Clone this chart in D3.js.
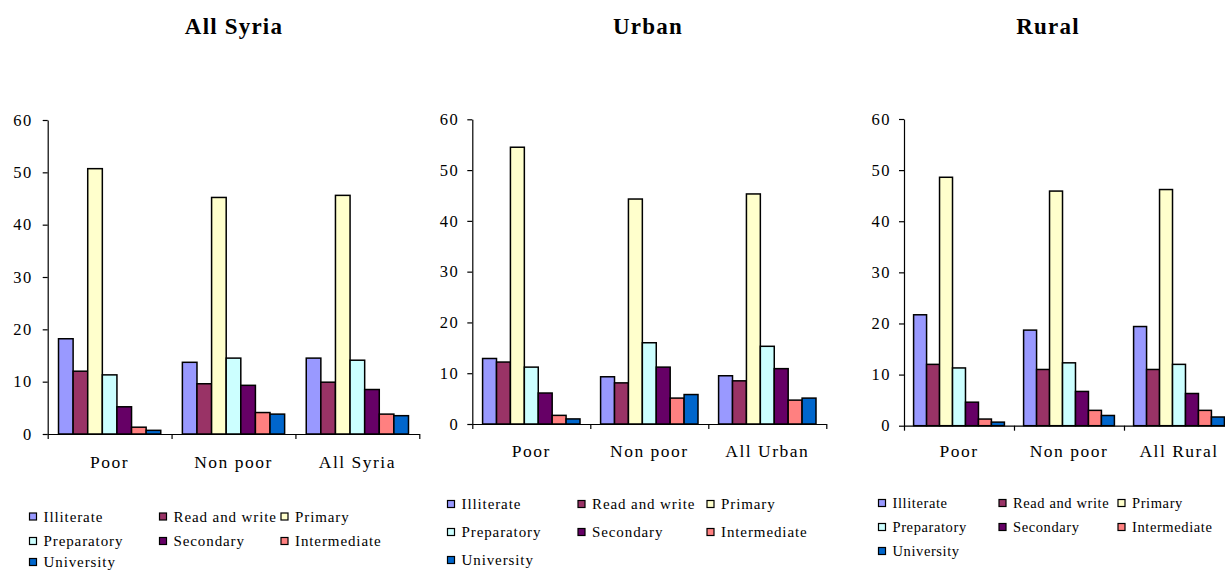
<!DOCTYPE html>
<html>
<head>
<meta charset="utf-8">
<script src="https://cdn.jsdelivr.net/npm/d3@7"></script>
<style>
  html, body { margin: 0; padding: 0; background: #fff; }
  svg { display: block; font-family: "Liberation Serif", "Times New Roman", serif; }
</style>
</head>
<body>
<svg id="chart" width="1225" height="571"></svg>
<script>
// Education level shares (%) of household heads, by poverty status
const series = ["Illiterate", "Read and write", "Primary", "Preparatory", "Secondary", "Intermediate", "University"];
const seriesColors = ["#9999FF", "#993366", "#FFFFCC", "#CCFFFF", "#660066", "#FF8080", "#0066CC"];
const yTicks = [0, 10, 20, 30, 40, 50, 60];

const syriaGroups = ["Poor", "Non poor", "All Syria"];
const syriaPoor    = [18.2, 12.0, 50.7, 11.3, 5.2, 1.3, 0.7];
const syriaNonPoor = [13.7, 9.6, 45.2, 14.5, 9.3, 4.1, 3.8];
const syriaAll     = [14.5, 9.9, 45.6, 14.1, 8.5, 3.8, 3.5];

const urbanGroups = ["Poor", "Non poor", "All Urban"];
const urbanPoor    = [12.9, 12.2, 54.5, 11.2, 6.1, 1.7, 1.0];
const urbanNonPoor = [9.3, 8.1, 44.3, 16.0, 11.2, 5.1, 5.8];
const urbanAll     = [9.5, 8.5, 45.3, 15.3, 10.9, 4.7, 5.1];

const ruralGroups = ["Poor", "Non poor", "All Rural"];
const ruralPoor    = [21.7, 12.0, 48.6, 11.3, 4.6, 1.3, 0.7];
const ruralNonPoor = [18.7, 11.0, 45.9, 12.3, 6.7, 3.0, 2.0];
const ruralAll     = [19.4, 11.0, 46.2, 12.0, 6.3, 3.0, 1.7];

const panels = [
  { title: "All Syria", groups: syriaGroups, values: [syriaPoor, syriaNonPoor, syriaAll],
    titleX: 234, left: 47.7, right: 419.3, top: 120, bottom: 434, labelY: 468, tickPad: 10,
    legend: { cols: [29.5, 159.5, 281], rows: [516.5, 541, 562], size: 15, spacing: 0.9 } },
  { title: "Urban", groups: urbanGroups, values: [urbanPoor, urbanNonPoor, urbanAll],
    titleX: 648, left: 472.3, right: 826.3, top: 119.3, bottom: 424, labelY: 457, tickPad: 8,
    legend: { cols: [447.5, 578, 707], rows: [504, 532, 560], size: 15, spacing: 0.9 } },
  { title: "Rural", groups: ruralGroups, values: [ruralPoor, ruralNonPoor, ruralAll],
    titleX: 1048, left: 904, right: 1234, top: 119, bottom: 425.7, labelY: 457, tickPad: 8,
    legend: { cols: [878.5, 999, 1118], rows: [503, 527, 551], size: 14.5, spacing: 0.6 } }
];

const svg = d3.select("#chart");

panels.forEach(p => {
  const g = svg.append("g");

  // Title
  g.append("text")
    .attr("x", p.titleX).attr("y", 34)
    .attr("text-anchor", "middle")
    .attr("font-size", 23).attr("font-weight", "bold")
    .attr("letter-spacing", 1.2)
    .text(p.title);

  const y = d3.scaleLinear().domain([0, 60]).range([p.bottom, p.top]);
  const x0 = d3.scaleBand().domain(p.groups).range([p.left, p.right]).padding(0);
  const x1 = d3.scaleBand().domain(series).range([0, x0.bandwidth()])
    .paddingInner(0).paddingOuter(0.74);

  // Bars
  const grp = g.selectAll("g.grp").data(p.groups).join("g")
    .attr("class", "grp")
    .attr("transform", d => `translate(${x0(d)},0)`);
  grp.selectAll("rect")
    .data((d, i) => series.map((s, j) => ({ s, v: p.values[i][j], c: seriesColors[j] })))
    .join("rect")
    .attr("x", d => x1(d.s))
    .attr("width", x1.bandwidth())
    .attr("y", d => y(d.v))
    .attr("height", d => y(0) - y(d.v))
    .attr("fill", d => d.c)
    .attr("stroke", "#000")
    .attr("stroke-width", 1.5);

  // Y axis
  const yAxis = g.append("g")
    .attr("transform", `translate(${p.left},0)`)
    .call(d3.axisLeft(y).tickValues(yTicks).tickSize(5).tickSizeOuter(0).tickPadding(p.tickPad));
  yAxis.selectAll("text")
    .attr("font-family", "Liberation Serif, serif")
    .attr("font-size", 16.5).attr("letter-spacing", 1.5).attr("fill", "#000");

  // X axis with boundary ticks between groups
  const xb = d3.scaleLinear().domain([0, p.groups.length]).range([p.left, p.left + x0.step() * p.groups.length]);
  g.append("g")
    .attr("transform", `translate(0,${p.bottom})`)
    .call(d3.axisBottom(xb).tickValues(d3.range(p.groups.length + 1)).tickSize(5).tickSizeOuter(0).tickFormat(""));
  g.selectAll(".domain, .tick line").attr("stroke", "#000").attr("stroke-width", 1.2);

  // Category labels
  const labels = g.append("g")
    .attr("transform", `translate(0,${p.bottom})`)
    .call(d3.axisBottom(x0).tickSize(0).tickPadding(0));
  labels.select(".domain").remove();
  labels.selectAll("text")
    .attr("y", p.labelY - p.bottom).attr("dy", 0)
    .attr("font-family", "Liberation Serif, serif")
    .attr("font-size", 17.5).attr("letter-spacing", 1.5).attr("fill", "#000");

  // Legend: three columns, items wrap row by row
  const leg = g.append("g");
  series.forEach((s, i) => {
    const cx = p.legend.cols[i % 3];
    const cy = p.legend.rows[Math.floor(i / 3)];
    leg.append("rect")
      .attr("x", cx).attr("y", cy - 3.5)
      .attr("width", 7).attr("height", 7)
      .attr("fill", seriesColors[i]).attr("stroke", "#000").attr("stroke-width", 1.2);
    leg.append("text")
      .attr("x", cx + 14).attr("y", cy + 5)
      .attr("font-size", p.legend.size).attr("letter-spacing", p.legend.spacing)
      .text(s);
  });
});
</script>
</body>
</html>
